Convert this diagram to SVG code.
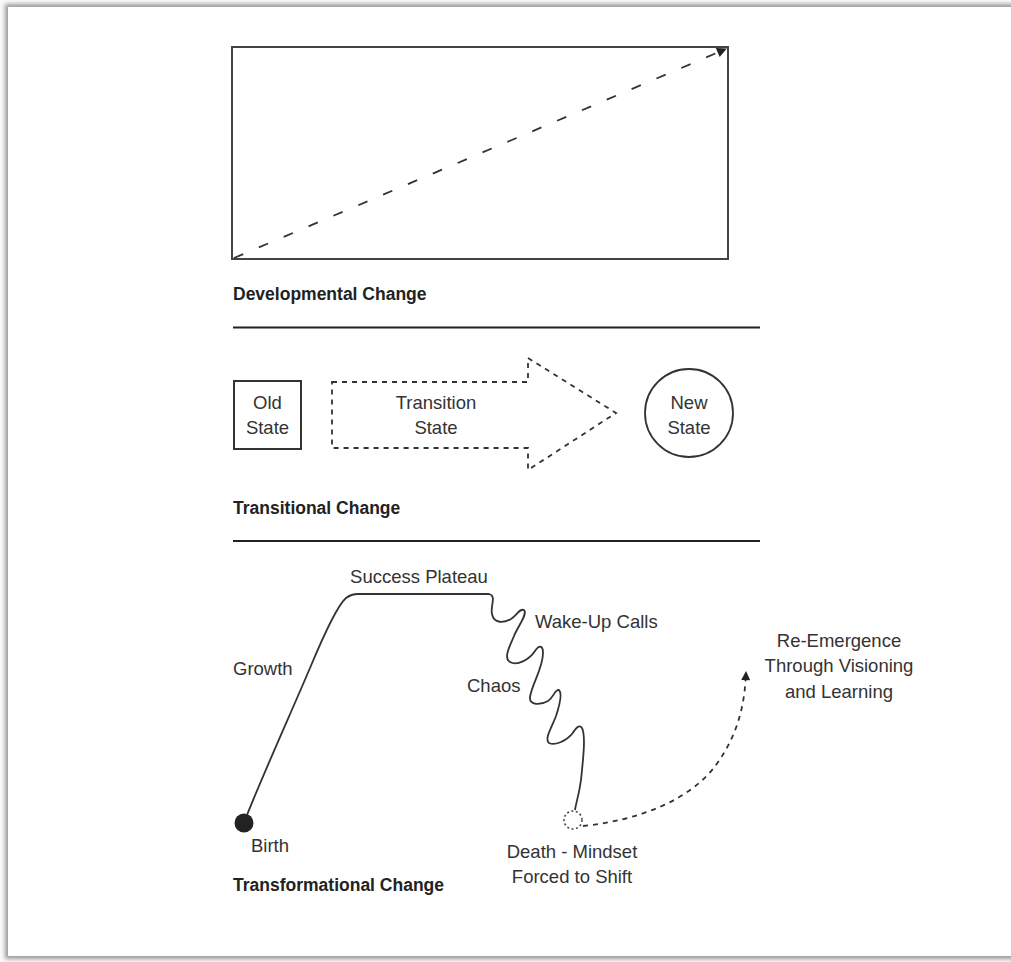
<svg xmlns="http://www.w3.org/2000/svg" width="1011" height="962" viewBox="0 0 1011 962">
  <style>
    .lbl { font-family: "Liberation Sans", Arial, sans-serif; font-size: 18.5px; fill: #333; }
    .ttl { font-family: "Liberation Sans", Arial, sans-serif; font-size: 17.5px; font-weight: bold; fill: #222; }
    .ln { fill: none; stroke: #333; stroke-width: 1.8; }
    .dash { fill: none; stroke: #333; stroke-width: 1.8; stroke-dasharray: 5 5; }
    .rule { stroke: #222; stroke-width: 2; }
  </style>
  <defs>
    <filter id="pageShadow" x="-5%" y="-5%" width="110%" height="110%">
      <feGaussianBlur stdDeviation="2"/>
    </filter>
    <marker id="tri" viewBox="0 0 10 10" refX="9" refY="5" markerWidth="13" markerHeight="9" markerUnits="userSpaceOnUse" orient="auto">
      <path d="M0,0 L10,5 L0,10 Z" fill="#222"/>
    </marker>
    <marker id="triBig" viewBox="0 0 10 10" refX="9" refY="5" markerWidth="14" markerHeight="10" markerUnits="userSpaceOnUse" orient="auto">
      <path d="M0,0 L10,5 L0,10 Z" fill="#222"/>
    </marker>
  </defs>

  <!-- page background and sheet -->
  <rect x="0" y="0" width="1011" height="962" fill="#fafafa"/>
  <rect x="5" y="4" width="1020" height="955" fill="#9a9a9a" filter="url(#pageShadow)"/>
  <rect x="8" y="7" width="1010" height="949" fill="#ffffff"/>

  <!-- Developmental change panel -->
  <g id="developmental">
    <rect x="232" y="47" width="496" height="212" fill="none" stroke="#444" stroke-width="2"/>
    <line x1="234" y1="258" x2="726" y2="49" class="ln" stroke-dasharray="10 17" marker-end="url(#triBig)"/>
    <text x="233" y="300" class="ttl">Developmental Change</text>
  </g>
  <line x1="233" y1="327.5" x2="760" y2="327.5" class="rule"/>

  <!-- Transitional change panel -->
  <g id="old-state">
    <rect x="234" y="381" width="67" height="68" fill="none" stroke="#333" stroke-width="2"/>
    <text x="267.5" y="409" class="lbl" text-anchor="middle">Old</text>
    <text x="267.5" y="434" class="lbl" text-anchor="middle">State</text>
  </g>
  <g id="transition-state">
    <path d="M332,382 H528 V358 L616,413 L528,470 V448 H332 Z" class="dash"/>
    <text x="436" y="409" class="lbl" text-anchor="middle">Transition</text>
    <text x="436" y="434" class="lbl" text-anchor="middle">State</text>
  </g>
  <g id="new-state">
    <circle cx="689" cy="413" r="44" fill="none" stroke="#333" stroke-width="1.8"/>
    <text x="689" y="409" class="lbl" text-anchor="middle">New</text>
    <text x="689" y="434" class="lbl" text-anchor="middle">State</text>
  </g>
  <text x="233" y="514" class="ttl">Transitional Change</text>
  <line x1="233" y1="541" x2="760" y2="541" class="rule"/>

  <!-- Transformational change panel -->
  <g id="birth">
    <circle cx="244" cy="823" r="9.5" fill="#222"/>
    <text x="251" y="852" class="lbl">Birth</text>
  </g>
  <g id="death">
    <circle cx="573" cy="820" r="9" fill="none" stroke="#444" stroke-width="1.6" stroke-dasharray="2 2.5"/>
    <text x="572" y="858" class="lbl" text-anchor="middle">Death - Mindset</text>
    <text x="572" y="883" class="lbl" text-anchor="middle">Forced to Shift</text>
  </g>
  <g id="re-emergence">
    <text x="839" y="647" class="lbl" text-anchor="middle">Re-Emergence</text>
    <text x="839" y="672" class="lbl" text-anchor="middle">Through Visioning</text>
    <text x="839" y="698" class="lbl" text-anchor="middle">and Learning</text>
  </g>
  <g id="stage-labels">
    <text x="419" y="583" class="lbl" text-anchor="middle">Success Plateau</text>
    <text x="233" y="675" class="lbl">Growth</text>
    <text x="535" y="628" class="lbl">Wake-Up Calls</text>
    <text x="467" y="692" class="lbl">Chaos</text>
  </g>

  <g id="connectors">
    <!-- growth, plateau and the chaotic descent -->
    <path class="ln" d="M247,815 C265,770 290,715 310,668 C325,632 338,605 346,598 C350,595 353,594 358,594 L489,594
      C497,596 490,606 492,614 C494,624 504,623 511,619 C517,615 520,608 524,610
      C528,614 518,626 514,636 C510,646 503,658 510,662 C517,666 529,660 535,651
      C539,645 543,645 543,653 C543,668 532,684 530,697 C529,706 541,705 548,701
      C554,697 555,689 559,690 C563,694 559,707 556,716 C552,727 544,739 549,743
      C555,746 566,741 572,734 C576,728 579,724 582,728 C586,736 583,760 581,780
      C579,795 576,803 575,810"/>
    <!-- re-emergence path -->
    <path class="dash" d="M583,826 C640,820 690,800 716,765 C740,732 745,700 746,672" marker-end="url(#tri)"/>
  </g>

  <text x="233" y="891" class="ttl">Transformational Change</text>
</svg>
